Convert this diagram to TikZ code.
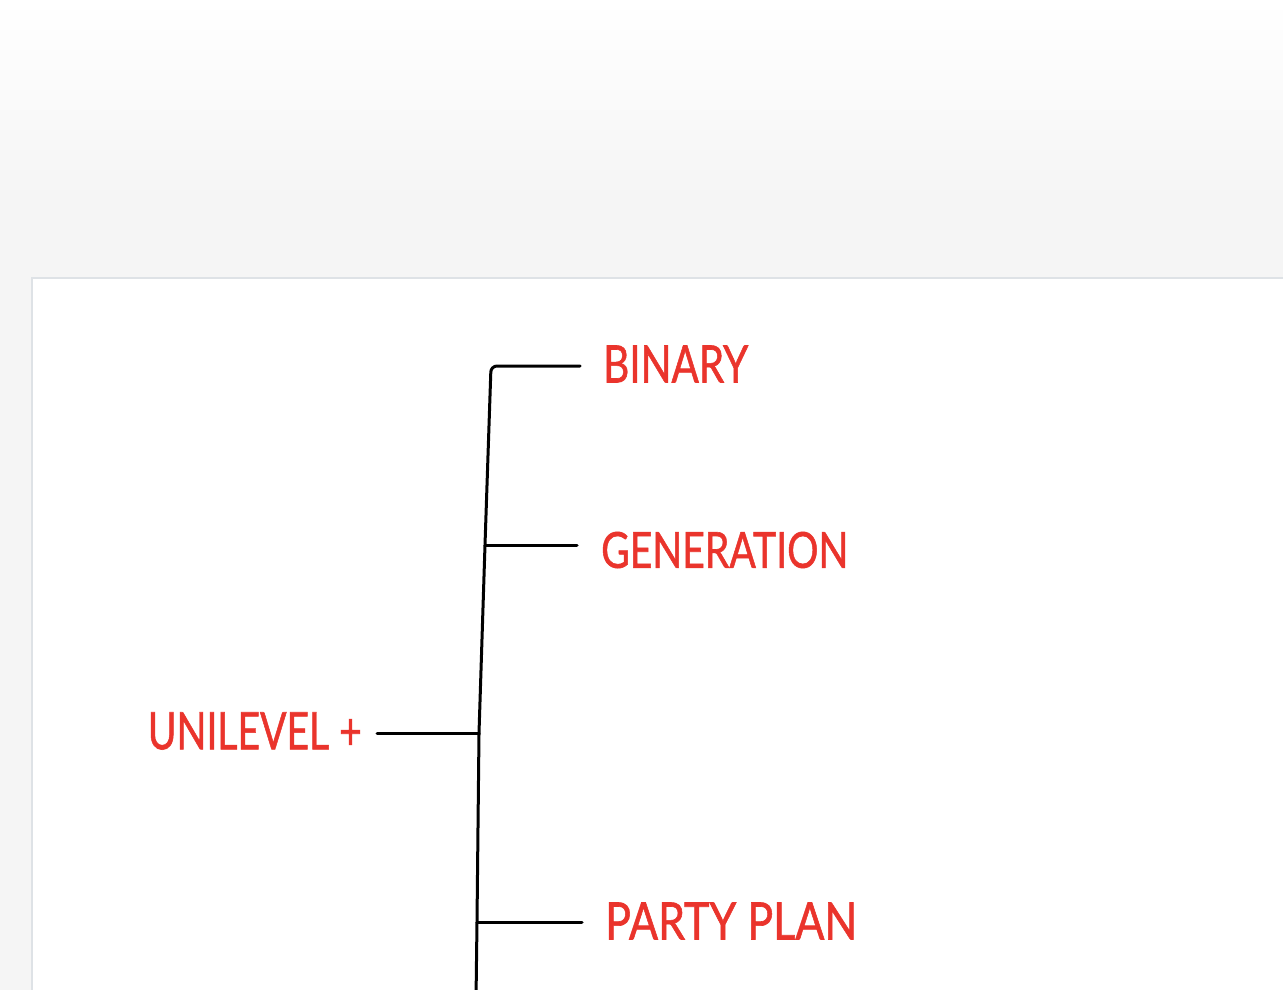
\documentclass[tikz,border=0pt]{standalone}
\usepackage{fontspec}
\setmainfont[FakeBold=1.2]{Lato}
\usepackage{graphicx}
\definecolor{txtred}{RGB}{234,52,44}
\definecolor{bggray}{RGB}{245,245,245}
\definecolor{cardedge}{RGB}{222,226,230}
\begin{document}
\begin{tikzpicture}[x=1pt,y=-1pt,
  lbl/.style={inner sep=0pt, text=txtred},
  wire/.style={line width=3pt, black, line cap=round, line join=round}]
\useasboundingbox (0,0) rectangle (1283,990);
\fill[bggray] (0,0) rectangle (1283,990);
\shade[top color=white, bottom color=bggray] (0,0) rectangle (1283,200);
\fill[white, draw=cardedge, line width=2pt] (32,278) rectangle (1300,1010);
% labels
\node[lbl, anchor=west] (binary) at (603,364) {\resizebox{145pt}{37pt}{BINARY}};
\node[lbl, anchor=west] (generation) at (601,550) {\resizebox{247pt}{36pt}{GENERATION}};
\node[lbl, anchor=east] (unilevel) at (362,731) {\resizebox{214pt}{37pt}{UNILEVEL +}};
\node[lbl, anchor=west] (party) at (605,921) {\resizebox{252pt}{37pt}{PARTY PLAN}};
% junctions
\coordinate (j1) at (491,366);
\coordinate (j2) at (485,545);
\coordinate (j3) at (479,733);
\coordinate (j4) at (477,922);
\coordinate (jend) at (476,1000);
% connectors
\draw[wire, rounded corners=6pt, shorten <=23pt] (j1 -| binary.west) -- (j1) -- (j2) -- (j3) -- (j4) -- (jend);
\draw[wire, shorten >=24pt] (j2) -- (j2 -| generation.west);
\draw[wire, shorten >=23pt] (j4) -- (j4 -| party.west);
\draw[wire, shorten <=15pt] (j3 -| unilevel.east) -- (j3);
\end{tikzpicture}
\end{document}
